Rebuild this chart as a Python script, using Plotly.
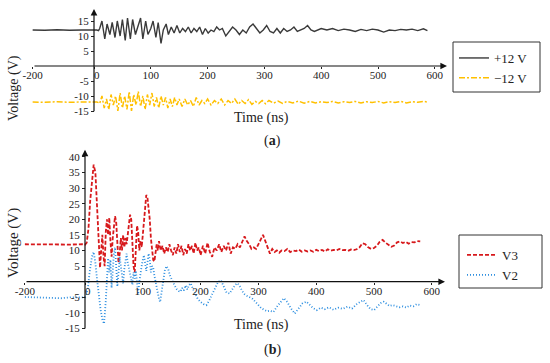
import plotly.graph_objects as go

# ---------------- data ----------------
# Panel (a): +12 V line (time ns, voltage V)
t_a_pos = [-200, -160, -120, -80, -40, -10, 0, 5, 8,
           10, 14, 19, 23, 28, 32, 37, 41, 46, 50, 55, 59, 64, 68, 73, 77, 82, 86,
           91, 95, 100, 104, 109, 113, 118, 122, 127, 131, 136, 141, 146, 151, 156, 161,
           166, 171, 176, 181, 186, 191, 196, 201, 206, 211, 216, 221, 226, 232, 238, 244, 250,
           256, 262, 268, 274, 280, 286, 292, 298, 304, 310, 316, 322, 328, 334, 340,
           346, 352, 358, 364, 370, 376, 382, 388, 394, 400, 410, 420, 430, 440, 450,
           460, 470, 480, 490, 500, 510, 520, 530, 540, 550, 560, 570, 580, 587]
v_a_pos = [12.0, 11.9, 12.1, 11.9, 12.0, 12.1, 11.9, 12.0, 11.8,
           12.5, 15.0, 9.0, 14.0, 10.5, 14.5, 9.5, 15.0, 10.0, 15.5, 8.5, 16.0, 9.0, 15.5, 10.5, 13.0, 16.0, 9.0,
           15.0, 10.5, 12.5, 15.0, 9.5, 14.5, 7.5, 12.0, 14.0, 10.5, 13.0, 11.0, 13.5, 11.0, 12.5, 11.5,
           13.0, 11.0, 12.5, 11.5, 13.0, 10.5, 12.5, 11.0, 12.0, 11.5, 13.0, 12.0, 12.5, 10.0, 11.5, 13.0, 12.0,
           10.5, 12.0, 11.0, 13.0, 14.0, 12.5, 11.0, 12.0, 13.5, 11.5, 11.0, 12.5, 11.0, 12.5, 11.5,
           12.0, 13.0, 11.5, 12.0, 12.5, 13.5, 12.0, 11.5, 12.0, 12.5, 12.0, 12.5, 11.8, 12.3, 12.0,
           11.5, 12.2, 11.8, 12.3, 12.0, 11.3, 12.0, 11.8, 12.2, 12.0, 12.3, 11.8, 12.4, 11.8]

# Panel (a): -12 V line
t_a_neg = [-200, -160, -120, -80, -40, -10, 0, 5, 8,
           10, 14, 18, 22, 26, 30, 34, 38, 42, 46, 50, 54, 58, 62, 66, 70, 74, 78,
           82, 86, 90, 94, 98, 102, 106, 110, 114, 118, 122, 126, 130, 134, 138, 142,
           146, 150, 155, 160, 165, 170, 175, 180, 185, 190, 195, 200, 206, 212, 218, 224,
           230, 236, 242, 248, 254, 260, 266, 272, 278, 284, 290, 296, 302, 308, 316, 324,
           332, 340, 350, 360, 370, 380, 390, 400, 410, 420, 430, 440, 450, 460, 470, 480,
           490, 500, 510, 520, 530, 540, 550, 560, 570, 580, 587]
v_a_neg = [-12.0, -12.1, -11.9, -12.1, -12.0, -11.9, -12.1, -12.0, -12.2,
           -12.5, -10.0, -14.0, -11.0, -14.5, -9.5, -13.0, -10.0, -15.0, -9.0, -14.0, -10.0, -14.5, -8.5, -15.0, -9.5, -13.0, -8.5,
           -13.5, -10.0, -14.5, -9.5, -13.0, -9.0, -13.5, -10.5, -14.0, -10.0, -13.0, -10.5, -14.0, -11.0, -13.5, -10.5,
           -13.0, -11.0, -13.5, -11.0, -13.0, -11.5, -13.5, -10.5, -13.0, -11.5, -12.5, -11.0, -13.0, -11.5, -12.5, -11.0,
           -13.0, -11.5, -12.5, -11.0, -12.8, -11.5, -12.5, -11.2, -12.8, -11.8, -12.5, -11.5, -12.6, -11.5, -12.4, -11.7,
           -12.5, -11.8, -12.3, -11.7, -12.4, -11.8, -12.3, -11.9, -12.2, -11.8, -12.3, -11.9, -12.2, -11.8, -12.3, -11.9,
           -12.2, -11.8, -12.3, -11.9, -12.2, -11.8, -12.3, -11.9, -12.1, -11.8, -12.0]

# Panel (b): V3
t_b_v3 = [-200, -150, -100, -50, -10, 0, 3, 6, 9, 12, 15, 18, 21, 24, 26, 28, 30, 32, 34, 36,
          38, 40, 42, 44, 46, 48, 50, 52, 54, 56, 58, 60, 62, 64, 66, 68, 70, 72, 74, 76,
          78, 80, 82, 84, 86, 88, 90, 92, 94, 96, 98, 100, 102, 104, 106, 108, 110, 112, 114, 116,
          118, 120, 122, 124, 126, 128, 131, 134, 137, 140, 143, 146, 149, 152, 155, 158, 161, 164, 167, 170,
          173, 176, 179, 182, 185, 188, 191, 194, 197, 200, 204, 208, 212, 216, 220, 224, 228, 232, 236, 240,
          244, 248, 252, 256, 260, 264, 268, 272, 276, 280, 284, 288, 292, 296, 300, 304, 308, 312, 316, 320,
          324, 328, 332, 336, 340, 345, 350, 355, 360, 365, 370, 375, 380, 385, 390, 395, 400, 405, 410, 415,
          420, 425, 430, 435, 440, 445, 450, 455, 460, 465, 470, 475, 480, 485, 490, 495, 500, 505, 510, 515,
          520, 525, 530, 535, 540, 545, 550, 555, 560, 565, 570, 575, 580]
v_b_v3 = [12.0, 11.9, 12.0, 11.9, 12.0, 11.8, 12.5, 17.0, 26.0, 33.0, 37.5, 35.0, 24.0, 10.0, 4.5, 10.0, 15.0, 8.0, 5.0, 16.0,
          20.0, 15.0, 20.5, 13.0, 8.0, 14.0, 18.0, 21.0, 19.0, 12.0, 6.0, 9.0, 14.0, 10.0, 15.0, 11.0, 14.0, 12.0, 16.0, 19.0,
          21.5, 20.0, 14.0, 5.0, 3.0, 11.0, 18.0, 16.0, 10.0, 13.0, 11.0, 15.0, 20.0, 25.0, 27.8, 27.0, 24.0, 20.0, 14.0, 9.0,
          7.0, 6.5, 9.0, 12.0, 10.0, 13.0, 10.0, 11.5, 9.0, 11.0, 9.5, 12.0, 10.0, 8.5, 11.0, 9.0, 12.0, 9.5, 11.5, 8.5,
          10.5, 9.0, 12.0, 10.0, 11.5, 9.0, 12.5, 10.0, 11.0, 8.5, 11.5, 9.0, 12.5, 9.5, 8.0, 11.0, 10.0, 12.0, 9.5, 11.5,
          10.0, 12.5, 9.0, 11.0, 10.5, 12.0, 11.0, 13.0, 14.5, 13.0, 12.0, 10.5, 11.0, 10.5, 12.0, 14.0, 15.0, 13.0, 11.0, 9.0,
          10.5, 9.5, 10.0, 9.3, 10.0, 9.8, 10.5, 9.5, 10.0, 9.8, 10.3, 9.6, 10.0, 9.7, 10.0, 9.6, 10.2, 9.8, 10.2, 9.7,
          10.4, 9.9, 10.2, 10.0, 10.5, 10.1, 10.2, 9.9, 10.3, 10.1, 10.4, 11.0, 12.3, 12.0, 11.0, 10.5, 10.8, 11.5, 12.8, 13.4,
          12.5, 11.8, 11.2, 11.6, 12.6, 12.9, 12.4, 12.8, 12.2, 12.7, 12.6, 13.0, 12.9]

# Panel (b): V2
t_b_v2 = [-200, -150, -120, -80, -50, -20, 0, 2, 5, 8, 12, 15, 18, 21, 24, 27, 30, 33, 36, 38,
          40, 42, 44, 46, 48, 50, 52, 54, 56, 58, 60, 62, 64, 66, 68, 70, 72, 74, 76, 78,
          80, 82, 84, 86, 88, 90, 92, 94, 96, 98, 100, 102, 104, 106, 108, 110, 112, 114, 116, 118,
          120, 122, 124, 126, 128, 130, 132, 134, 136, 138, 141, 144, 147, 150, 153, 156, 159, 162, 165, 168,
          171, 174, 177, 180, 183, 186, 190, 195, 200, 205, 210, 215, 220, 225, 230, 235, 240, 245, 250, 255,
          260, 264, 268, 272, 276, 280, 285, 290, 295, 300, 305, 310, 315, 320, 326, 332, 338, 344, 350, 356,
          363, 370, 376, 383, 390, 395, 401, 408, 415, 422, 430, 438, 446, 454, 462, 470, 476, 482, 488, 494,
          500, 506, 512, 517, 522, 527, 532, 538, 544, 550, 556, 562, 568, 574, 580]
v_b_v2 = [-4.9, -5.0, -5.2, -5.3, -5.0, -4.9, -5.0, -4.5, -2.0, 3.0, 8.0, 9.5, 6.0, 0.5, -5.0, -9.0, -12.0, -13.5, -6.0, 2.0,
          7.5, 3.0, 7.0, -2.0, 4.0, 9.0, 11.0, 6.0, -1.5, 3.0, 8.0, 5.0, 1.0, -0.5, 4.0, 7.5, 9.0, 6.0, 4.0, 2.0,
          0.0, -1.0, 3.0, 1.0, 3.5, -1.0, -4.0, 0.0, 3.0, 5.0, 7.0, 8.5, 6.0, 3.5, 6.0, 9.0, 7.0, 3.0, 5.0, 4.5,
          2.0, 0.0, -1.0, -3.0, -5.5, -6.5, -4.0, -1.0, 1.5, 3.5, 5.0, 4.0, 2.0, 0.5, -0.5, -1.5, -2.5, -3.0, -3.2, -2.0,
          -2.8, -1.2, -2.5, -1.0, -0.5, -2.0, -3.5, -5.5, -6.5, -7.2, -7.5, -6.0, -4.0, -2.0, -0.2, 0.5, -1.5, -3.5, -3.8, -2.5,
          -1.0, -0.5, -1.5, -3.0, -4.0, -4.5, -5.0, -5.5, -6.5, -7.5, -8.5, -9.0, -9.5, -9.3, -9.7, -8.0, -6.5, -5.3, -6.5, -8.5,
          -10.2, -8.5, -7.0, -6.4, -7.5, -8.5, -9.1, -8.3, -8.8, -8.2, -9.0, -8.3, -8.7, -8.0, -8.6, -7.2, -6.5, -5.9, -7.5, -8.8,
          -9.1, -8.0, -6.8, -6.4, -7.0, -7.8, -7.5, -7.9, -8.2, -7.9, -8.3, -7.6, -7.9, -7.2, -7.5]

x_tick_values = [-200, 0, 100, 200, 300, 400, 500, 600]
x_tick_labels = ["-200", "\u00a0\u00a00", "100", "200", "300", "400", "500", "600"]
ya_tick_values = [-15, -10, -5, 5, 10, 15]
yb_tick_values = [-15, -10, -5, 5, 10, 15, 20, 25, 30, 35, 40]

# ---------------- layout helpers ----------------
W, H = 550, 363
FONT = "Liberation Serif, Times New Roman, Times, serif"
KA, KB = 0.54, 0.52          # compression of the pre-trigger (negative) time span


def tx(ts, k):
    return [t if t >= 0 else t * k for t in ts]


def px(x):
    return x / W


def py(y):
    return 1 - y / H


# panel (a): 0 ns at 94 px, 0.568 px/ns; 0 V at 66 px, 3 px/V
a_x0, a_sx, a_y0, a_sy = 94, 0.568, 66, 3.0
# panel (b): 0 ns at 85 px, 0.578 px/ns; 0 V at 281.7 px, 3.12 px/V
b_x0, b_sx, b_y0, b_sy = 85, 0.578, 281.7, 3.12

fig = go.Figure()
fig.add_trace(go.Scatter(x=tx(t_a_pos, KA), y=v_a_pos, mode="lines", name="+12 V",
                         line=dict(color="#3a3a3a", width=1.4), xaxis="x", yaxis="y", legend="legend"))
fig.add_trace(go.Scatter(x=tx(t_a_neg, KA), y=v_a_neg, mode="lines", name="\u221212 V",
                         line=dict(color="#FFC000", width=1.5, dash="6px,2px,2px,2px"),
                         xaxis="x", yaxis="y", legend="legend"))
fig.add_trace(go.Scatter(x=tx(t_b_v3, KB), y=v_b_v3, mode="lines", name="V3",
                         line=dict(color="#D7191C", width=1.8, dash="4px,2px"),
                         xaxis="x2", yaxis="y2", legend="legend2"))
fig.add_trace(go.Scatter(x=tx(t_b_v2, KB), y=v_b_v2, mode="lines", name="V2",
                         line=dict(color="#2E8FE0", width=1.8, dash="1px,2px"),
                         xaxis="x2", yaxis="y2", legend="legend2"))

tickfont = dict(family=FONT, size=11, color="#222")
common_x = dict(domain=[0, 1], anchor="free", showgrid=False, zeroline=False, showline=False,
                ticks="outside", ticklen=2, tickcolor="#222", tickfont=tickfont,
                tickmode="array", ticktext=x_tick_labels, ticklabelstandoff=-3)
common_y = dict(domain=[0, 1], anchor="free", showgrid=False, zeroline=False, showline=False,
                ticks="outside", ticklen=3, tickcolor="#222", tickfont=tickfont, tickmode="array")

fig.update_layout(
    width=W, height=H, autosize=False,
    margin=dict(l=0, r=0, t=0, b=0),
    paper_bgcolor="white", plot_bgcolor="rgba(0,0,0,0)",
    showlegend=True,
    xaxis=dict(common_x, range=[-a_x0 / a_sx, (W - a_x0) / a_sx], position=py(a_y0),
               tickvals=tx(x_tick_values, KA)),
    yaxis=dict(common_y, range=[-(H - a_y0) / a_sy, a_y0 / a_sy], position=px(a_x0),
               tickvals=ya_tick_values, ticktext=[str(v) for v in ya_tick_values]),
    xaxis2=dict(common_x, range=[-b_x0 / b_sx, (W - b_x0) / b_sx], position=py(b_y0),
                tickvals=tx(x_tick_values, KB)),
    yaxis2=dict(common_y, range=[-(H - b_y0) / b_sy, b_y0 / b_sy], position=px(b_x0),
                tickvals=yb_tick_values, ticktext=[str(v) for v in yb_tick_values]),
    legend=dict(x=px(454), y=py(43), xanchor="left", yanchor="top", bgcolor="rgba(0,0,0,0)",
                borderwidth=0, font=dict(family=FONT, size=13, color="#222"), tracegroupgap=0),
    legend2=dict(x=px(462), y=py(240), xanchor="left", yanchor="top", bgcolor="rgba(0,0,0,0)",
                 borderwidth=0, font=dict(family=FONT, size=13, color="#222"), tracegroupgap=0),
)

# legend frames
fig.add_shape(type="rect", xref="paper", yref="paper", x0=px(453), x1=px(540), y0=py(92), y1=py(42),
              line=dict(color="#333", width=1))
fig.add_shape(type="rect", xref="paper", yref="paper", x0=px(459), x1=px(542), y0=py(288), y1=py(235),
              line=dict(color="#333", width=1))

# axis lines with arrows (drawn through each panel's data coordinates)
arrow = dict(text="", showarrow=True, arrowhead=2, arrowsize=1.1, arrowwidth=1.2, arrowcolor="#111")
# (a)
fig.add_annotation(arrow, xref="x", yref="y", axref="x", ayref="y",
                   x=(447 - a_x0) / a_sx, y=0, ax=(33 - a_x0) / a_sx, ay=0)
fig.add_annotation(arrow, xref="x", yref="y", axref="x", ayref="y",
                   x=0, y=19.0, ax=0, ay=-15.6)
# (b)
fig.add_annotation(arrow, xref="x2", yref="y2", axref="x2", ayref="y2",
                   x=(445 - b_x0) / b_sx, y=0, ax=(25 - b_x0) / b_sx, ay=0)
fig.add_annotation(arrow, xref="x2", yref="y2", axref="x2", ayref="y2",
                   x=0, y=42.3, ax=0, ay=-15.5)

# titles
txt = dict(xref="paper", yref="paper", showarrow=False, xanchor="center", yanchor="middle")
fig.add_annotation(txt, x=px(14), y=py(88), text="Voltage (V)", textangle=-90,
                   font=dict(family=FONT, size=14, color="#222"))
fig.add_annotation(txt, x=px(261), y=py(118), text="Time (ns)",
                   font=dict(family=FONT, size=14, color="#222"))
fig.add_annotation(txt, x=px(272), y=py(141), text="(<b>a</b>)",
                   font=dict(family=FONT, size=14, color="#222"))
fig.add_annotation(txt, x=px(13), y=py(243), text="Voltage (V)", textangle=-90,
                   font=dict(family=FONT, size=15, color="#222"))
fig.add_annotation(txt, x=px(261), y=py(325), text="Time (ns)",
                   font=dict(family=FONT, size=14, color="#222"))
fig.add_annotation(txt, x=px(272), y=py(350), text="(<b>b</b>)",
                   font=dict(family=FONT, size=14, color="#222"))

# the page's default 8px body margin would shift the 550x363 figure; remove it
fig.write_html("out.html", config={"displayModeBar": False},
               post_script="document.body.style.margin='0';")
